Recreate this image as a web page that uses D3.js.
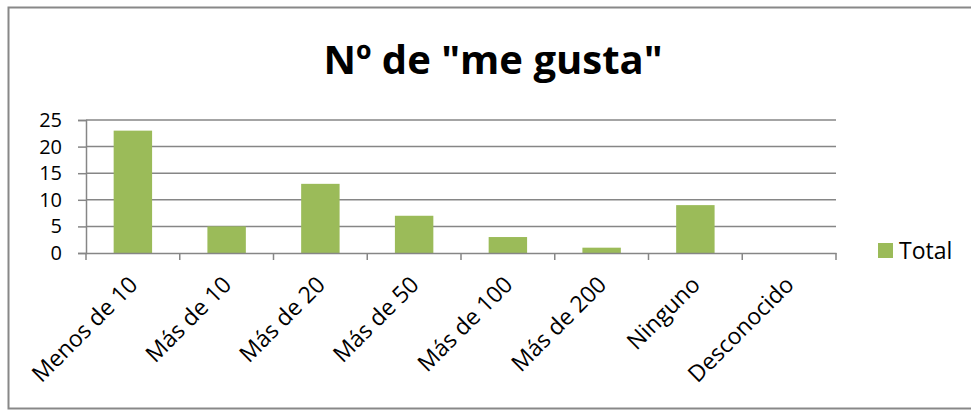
<!DOCTYPE html>
<html>
<head>
<meta charset="utf-8">
<script src="https://cdn.jsdelivr.net/npm/d3@7"></script>
<style>
  body { margin: 0; background: #fff; }
  text { font-family: "Open Sans", "Noto Sans", sans-serif; fill: #000; }
</style>
</head>
<body>
<div class="canvas"></div>
<script>
// data
const categories = ['Menos de 10', 'Más de 10', 'Más de 20', 'Más de 50', 'Más de 100', 'Más de 200', 'Ninguno', 'Desconocido'];
const totals = [23, 5, 13, 7, 3, 1, 9, 0];
const yTicks = [0, 5, 10, 15, 20, 25];
const seriesName = 'Total';
const title = 'Nº de "me gusta"';

const width = 971, height = 410;
const margin = {top: 120, right: 135, bottom: 157, left: 86};
const graphWidth = width - margin.left - margin.right;
const graphHeight = height - margin.top - margin.bottom;

const svg = d3.select('.canvas').append('svg')
    .attr('width', width)
    .attr('height', height);

// outer chart border
svg.append('rect')
    .attr('x', 8.5).attr('y', 7.5)
    .attr('width', 975).attr('height', 401)
    .attr('fill', 'none')
    .attr('stroke', '#888')
    .attr('stroke-width', 2);

// title
svg.append('text')
    .attr('x', 493).attr('y', 74)
    .attr('text-anchor', 'middle')
    .style('font-size', '40px')
    .style('font-weight', 'bold')
    .text(title);

const graph = svg.append('g')
    .attr('transform', `translate(${margin.left}, ${margin.top})`);

// scales
const x = d3.scaleBand()
    .domain(categories)
    .range([0, graphWidth])
    .paddingInner(0.59)
    .paddingOuter(0.295);
const y = d3.scaleLinear()
    .domain([0, 25])
    .range([graphHeight, 0]);

// gridlines
graph.append('g')
    .selectAll('line')
    .data(yTicks.slice(1))
    .join('line')
    .attr('x1', 0).attr('x2', graphWidth)
    .attr('y1', d => y(d)).attr('y2', d => y(d))
    .attr('stroke', '#868686')
    .attr('stroke-width', 1.5);

// bars
graph.append('g')
    .selectAll('rect')
    .data(totals)
    .join('rect')
    .attr('x', (d, i) => x(categories[i]))
    .attr('y', d => y(d))
    .attr('width', x.bandwidth())
    .attr('height', d => graphHeight - y(d))
    .attr('fill', '#9bbb59');

// axes
const xAxis = d3.axisBottom(x).tickSize(0).tickFormat(d => d);
const yAxis = d3.axisLeft(y).tickValues(yTicks).tickSize(8).tickPadding(16);

const xAxisGroup = graph.append('g')
    .attr('transform', `translate(0, ${graphHeight})`)
    .call(xAxis);
xAxisGroup.select('.domain').attr('stroke', '#868686').attr('stroke-width', 1.5);
// category boundary tick marks
const step = x.step();
xAxisGroup.selectAll('.bound')
    .data(d3.range(categories.length + 1))
    .join('line')
    .attr('class', 'bound')
    .attr('x1', i => i * step).attr('x2', i => i * step)
    .attr('y1', 0).attr('y2', 7)
    .attr('stroke', '#868686')
    .attr('stroke-width', 1.5);
xAxisGroup.selectAll('.tick text')
    .style('font-size', '23px')
    .style('font-family', '"Open Sans", sans-serif')
    .attr('text-anchor', 'end')
    .attr('dy', 0)
    .attr('transform', 'translate(4, 31) rotate(-45)');

const yAxisGroup = graph.append('g').call(yAxis);
yAxisGroup.select('.domain').attr('stroke', '#868686').attr('stroke-width', 1.5);
yAxisGroup.selectAll('.tick line').attr('stroke', '#868686').attr('stroke-width', 1.5);
yAxisGroup.selectAll('.tick text')
    .style('font-size', '20px')
    .style('font-family', '"Open Sans", sans-serif');

// legend
const legend = svg.append('g').attr('transform', 'translate(878, 243)');
legend.append('rect')
    .attr('width', 15).attr('height', 15)
    .attr('fill', '#9bbb59');
legend.append('text')
    .attr('x', 21).attr('y', 16)
    .style('font-size', '23px')
    .text(seriesName);
</script>
</body>
</html>
